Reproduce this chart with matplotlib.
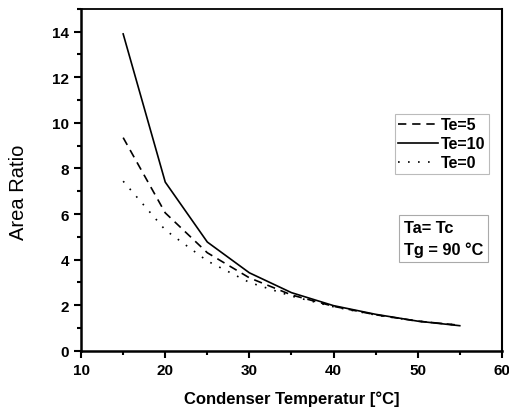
import numpy as np
import matplotlib.pyplot as plt
from matplotlib.ticker import MultipleLocator

plt.rcParams['font.family'] = ['Liberation Sans', 'DejaVu Sans']

# -- data ---------------------------------------------------------------
tc = [15, 20, 25, 30, 35, 40, 45, 50, 55]
te5 = [9.35, 6.05, 4.3, 3.2, 2.45, 1.95, 1.58, 1.3, 1.12]
te10 = [13.9, 7.4, 4.77, 3.42, 2.55, 1.98, 1.6, 1.3, 1.1]
te0 = [7.44, 5.3, 3.94, 3.0, 2.4, 1.93, 1.57, 1.3, 1.12]

fig = plt.figure(figsize=(5.1, 4.1), dpi=100)
ax = fig.add_axes([0.159, 0.142, 0.825, 0.834])

ax.plot(tc, te5, color='black', lw=1.2, ls=(0, (5, 3.5)), label='Te=5')
ax.plot(tc, te10, color='black', lw=1.2, ls='-', label='Te=10')
ax.plot(tc, te0, color='black', lw=1.2, ls=(0, (1, 5)), label='Te=0')

ax.set_xlim(10, 60)
ax.set_ylim(0, 15)
ax.xaxis.set_major_locator(MultipleLocator(10))
ax.xaxis.set_minor_locator(MultipleLocator(5))
ax.yaxis.set_major_locator(MultipleLocator(2))
ax.yaxis.set_minor_locator(MultipleLocator(1))
ax.tick_params(which='both', direction='out', width=1.5, labelsize=11)
ax.tick_params(which='major', length=5)
ax.tick_params(which='minor', length=3)
ax.tick_params(top=False, right=False, which='both')
for lbl in ax.get_xticklabels() + ax.get_yticklabels():
    lbl.set_fontweight('bold')
ax.spines['left'].set_linewidth(1.8)
ax.spines['bottom'].set_linewidth(1.8)
ax.spines['top'].set_linewidth(1.3)
ax.spines['right'].set_linewidth(1.5)

ax.set_xlabel('Condenser Temperatur [°C]', fontsize=12, fontweight='bold', labelpad=10)
ax.set_ylabel('Area Ratio', fontsize=14.5)
ax.yaxis.set_label_coords(-0.126, 0.467)

leg = ax.legend(loc='upper left', bbox_to_anchor=(0.746, 0.692), frameon=True,
                fancybox=False, edgecolor='#aaaaaa',
                prop={'weight': 'bold', 'size': 11.5},
                handlelength=2.5, handletextpad=0.2, borderpad=0.2,
                labelspacing=0.25, borderaxespad=0)
leg.get_frame().set_linewidth(0.8)

ax.text(0.767, 0.3825, 'Ta= Tc\nTg = 90 °C', transform=ax.transAxes,
        fontsize=11.8, fontweight='bold', va='top', linespacing=1.5,
        bbox=dict(boxstyle='square,pad=0.3', fc='white', ec='#aaaaaa', lw=0.8))

fig.savefig('out.png', dpi=100)
